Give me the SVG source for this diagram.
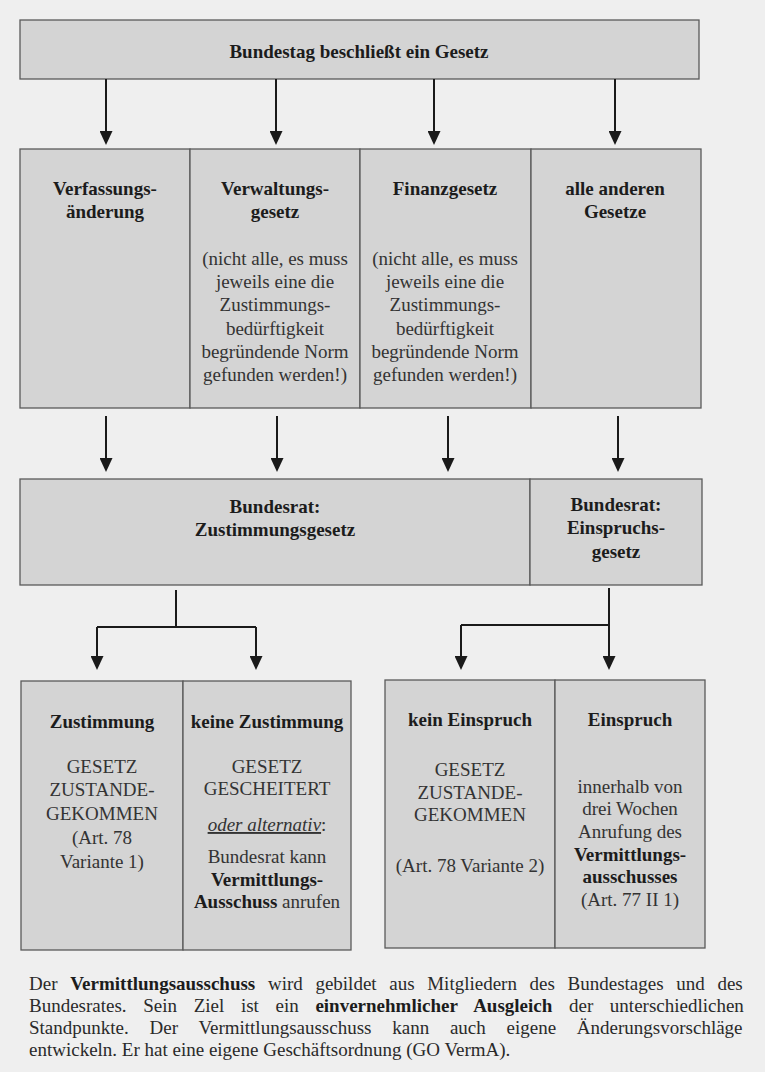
<svg xmlns="http://www.w3.org/2000/svg" width="765" height="1072" viewBox="0 0 765 1072">
<style>
.box{fill:#d4d4d4;stroke:#5a5a5a;stroke-width:1.3}
text{font-family:"Liberation Serif","Times New Roman",serif;font-size:19px;text-anchor:middle}
.b{font-weight:bold;fill:#1c1c1c}
.r{fill:#333333}
.bt{font-weight:bold;fill:#1c1c1c}
.it{font-style:italic;text-decoration:underline}
.foot{text-anchor:start;fill:#2a2a2a}
.con{fill:none;stroke:#1a1a1a;stroke-width:2}
</style>
<defs>
<marker id="ah" viewBox="0 0 14 13" refX="4" refY="6.5" markerWidth="14" markerHeight="13" markerUnits="userSpaceOnUse" orient="auto">
<path d="M0,0 L14,6.5 L0,13 z" fill="#1a1a1a"/>
</marker>
</defs>
<rect x="0" y="0" width="765" height="1072" fill="#efefef"/>

<g id="bundestag">
<rect class="box" x="20" y="20" width="679" height="59"/>
<text class="b" x="359" y="58">Bundestag beschließt ein Gesetz</text>
</g>

<g id="verfassungsaenderung">
<rect class="box" x="20" y="149" width="170" height="259"/>
<text class="b" x="105" y="195">Verfassungs-</text>
<text class="b" x="105" y="218">änderung</text>
</g>

<g id="verwaltungsgesetz">
<rect class="box" x="190" y="149" width="170" height="259"/>
<text class="b" x="275" y="195">Verwaltungs-</text>
<text class="b" x="275" y="218">gesetz</text>
<text class="r" x="275" y="265">(nicht alle, es muss</text>
<text class="r" x="275" y="288">jeweils eine die</text>
<text class="r" x="275" y="311">Zustimmungs-</text>
<text class="r" x="275" y="335">bedürftigkeit</text>
<text class="r" x="275" y="358">begründende Norm</text>
<text class="r" x="275" y="381">gefunden werden!)</text>
</g>

<g id="finanzgesetz">
<rect class="box" x="360" y="149" width="171" height="259"/>
<text class="b" x="445" y="195">Finanzgesetz</text>
<text class="r" x="445" y="265">(nicht alle, es muss</text>
<text class="r" x="445" y="288">jeweils eine die</text>
<text class="r" x="445" y="311">Zustimmungs-</text>
<text class="r" x="445" y="335">bedürftigkeit</text>
<text class="r" x="445" y="358">begründende Norm</text>
<text class="r" x="445" y="381">gefunden werden!)</text>
</g>

<g id="andere-gesetze">
<rect class="box" x="531" y="149" width="170" height="259"/>
<text class="b" x="615" y="195">alle anderen</text>
<text class="b" x="615" y="218">Gesetze</text>
</g>

<g id="zustimmungsgesetz">
<rect class="box" x="20" y="479" width="510" height="106"/>
<text class="b" x="275" y="513">Bundesrat:</text>
<text class="b" x="275" y="536">Zustimmungsgesetz</text>
</g>

<g id="einspruchsgesetz">
<rect class="box" x="530" y="479" width="172" height="106"/>
<text class="b" x="616" y="511">Bundesrat:</text>
<text class="b" x="616" y="534">Einspruchs-</text>
<text class="b" x="616" y="558">gesetz</text>
</g>

<g id="zustimmung">
<rect class="box" x="21" y="681" width="162" height="269"/>
<text class="b" x="102" y="728">Zustimmung</text>
<text class="r" x="102" y="773">GESETZ</text>
<text class="r" x="102" y="796">ZUSTANDE-</text>
<text class="r" x="102" y="820">GEKOMMEN</text>
<text class="r" x="102" y="844">(Art. 78</text>
<text class="r" x="102" y="868">Variante 1)</text>
</g>

<g id="keine-zustimmung">
<rect class="box" x="183" y="681" width="168" height="269"/>
<text class="b" x="267" y="728">keine Zustimmung</text>
<text class="r" x="267" y="773">GESETZ</text>
<text class="r" x="267" y="795">GESCHEITERT</text>
<text class="r" x="267" y="831"><tspan class="it">oder alternativ</tspan>:</text>
<text class="r" x="267" y="863">Bundesrat kann</text>
<text class="b" x="267" y="886">Vermittlungs-</text>
<text class="r" x="267" y="908"><tspan class="bt">Ausschuss</tspan> anrufen</text>
</g>

<g id="kein-einspruch">
<rect class="box" x="385" y="680" width="170" height="268"/>
<text class="b" x="470" y="726">kein Einspruch</text>
<text class="r" x="470" y="776">GESETZ</text>
<text class="r" x="470" y="799">ZUSTANDE-</text>
<text class="r" x="470" y="821">GEKOMMEN</text>
<text class="r" x="470" y="872">(Art. 78 Variante 2)</text>
</g>

<g id="einspruch">
<rect class="box" x="555" y="680" width="150" height="268"/>
<text class="b" x="630" y="726">Einspruch</text>
<text class="r" x="630" y="793">innerhalb von</text>
<text class="r" x="630" y="815">drei Wochen</text>
<text class="r" x="630" y="838">Anrufung des</text>
<text class="b" x="630" y="861">Vermittlungs-</text>
<text class="b" x="630" y="883">ausschusses</text>
<text class="r" x="630" y="906">(Art. 77 II 1)</text>
</g>

<g id="connectors">
<line class="con" x1="106" y1="79" x2="106" y2="135" marker-end="url(#ah)"/>
<line class="con" x1="276" y1="79" x2="276" y2="135" marker-end="url(#ah)"/>
<line class="con" x1="434" y1="79" x2="434" y2="135" marker-end="url(#ah)"/>
<line class="con" x1="615" y1="79" x2="615" y2="135" marker-end="url(#ah)"/>
<line class="con" x1="106" y1="416" x2="106" y2="462" marker-end="url(#ah)"/>
<line class="con" x1="277" y1="416" x2="277" y2="462" marker-end="url(#ah)"/>
<line class="con" x1="448" y1="416" x2="448" y2="462" marker-end="url(#ah)"/>
<line class="con" x1="618" y1="416" x2="618" y2="462" marker-end="url(#ah)"/>
<path class="con" d="M176,590 V627 M97,627 H256"/>
<line class="con" x1="97" y1="627" x2="97" y2="660" marker-end="url(#ah)"/>
<line class="con" x1="256" y1="627" x2="256" y2="660" marker-end="url(#ah)"/>
<line class="con" x1="609" y1="588" x2="609" y2="660" marker-end="url(#ah)"/>
<path class="con" d="M461,625 H609"/>
<line class="con" x1="461" y1="625" x2="461" y2="660" marker-end="url(#ah)"/>
</g>

<g id="footer">
<text class="foot" x="29" y="990" word-spacing="7.9">Der <tspan class="bt">Vermittlungsausschuss</tspan> wird gebildet aus Mitgliedern des Bundestages und des</text>
<text class="foot" x="29" y="1012" word-spacing="11.9">Bundesrates. Sein Ziel ist ein <tspan class="bt">einvernehmlicher Ausgleich</tspan> der unterschiedlichen</text>
<text class="foot" x="29" y="1034" word-spacing="16">Standpunkte. Der Vermittlungsausschuss kann auch eigene Änderungsvorschläge</text>
<text class="foot" x="29" y="1056">entwickeln. Er hat eine eigene Geschäftsordnung (GO VermA).</text>
</g>
</svg>
